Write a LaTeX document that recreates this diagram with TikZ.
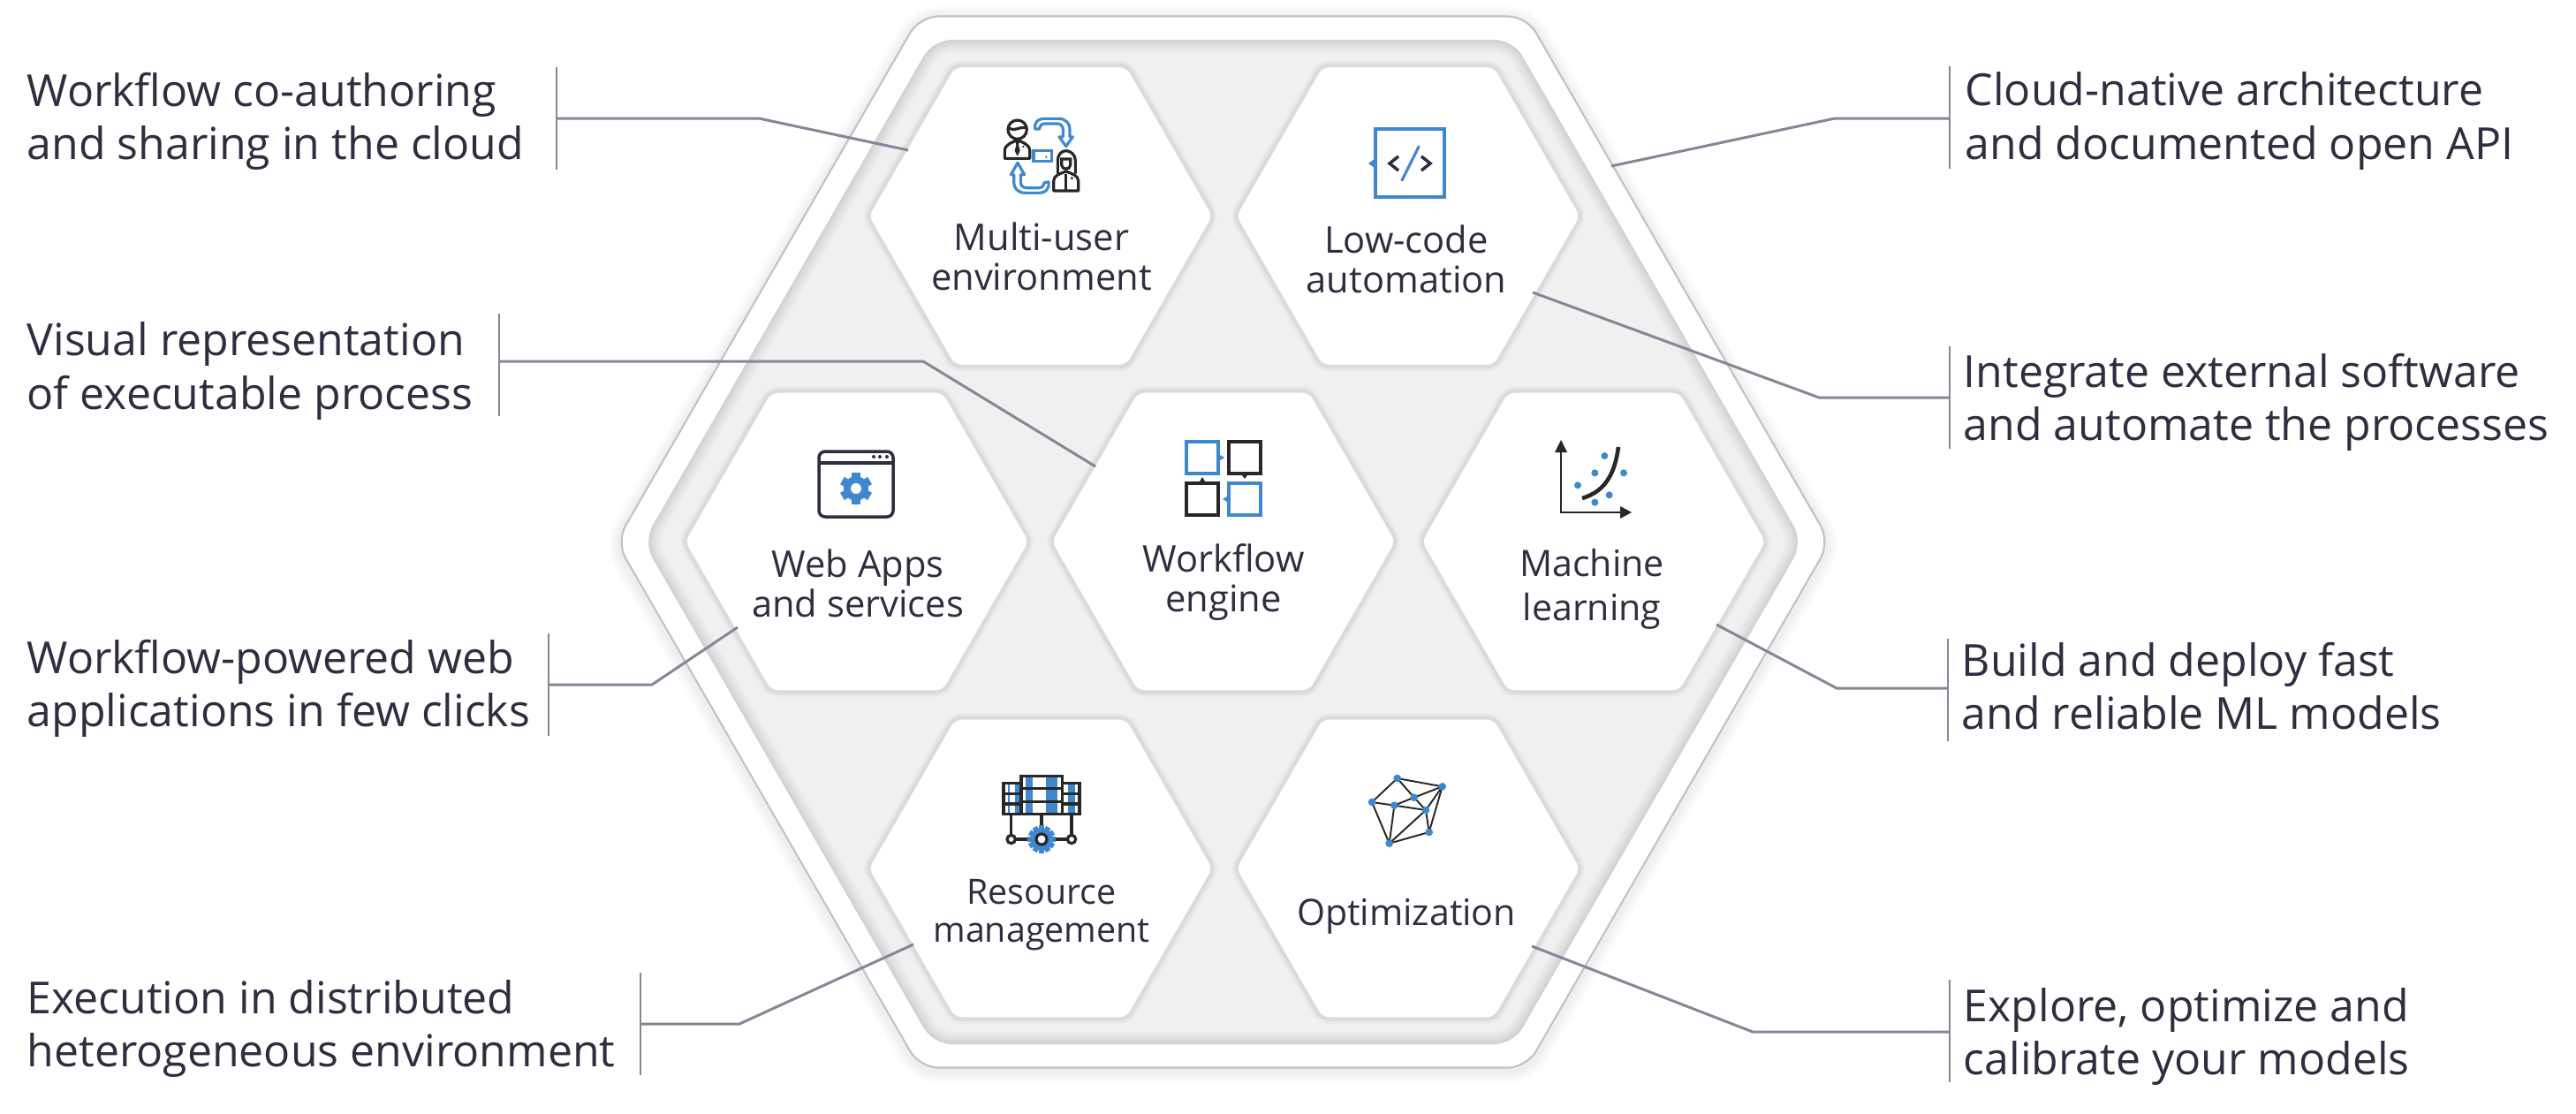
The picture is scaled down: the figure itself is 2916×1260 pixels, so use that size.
\documentclass[tikz,border=0pt]{standalone}
\usepackage{fontspec}
\setmainfont{Open Sans}
\usetikzlibrary{shapes.geometric}
\definecolor{inktext}{HTML}{2D2F40}
\definecolor{leaderline}{HTML}{868695}
\definecolor{iconblue}{HTML}{3F88D0}
\definecolor{icondark}{HTML}{272727}
\definecolor{bandgrey}{HTML}{F0F0F0}
\def\outerhex{(2071.5,613.5) -- (1728,18.5) -- (1041,18.5) -- (697.5,613.5) -- (1041,1208.5) -- (1728,1208.5) -- cycle}
\def\bandhex{(2041,613.5) -- (1712.75,45) -- (1056.25,45) -- (728,613.5) -- (1056.25,1182) -- (1712.75,1182) -- cycle}
\tikzset{
  hexcell/.style={regular polygon, regular polygon sides=6,
    minimum size=3.9cm, inner sep=0pt, rounded corners=2.2pt, fill=white,
    preaction={draw=black, opacity=.02, line width=4pt},
    preaction={draw=black, opacity=.03, line width=2.8pt},
    preaction={draw=black, opacity=.04, line width=1.6pt},
    draw=black!14, line width=.4pt},
  sidetext/.style={anchor=west, inner sep=0pt, align=left, text=inktext,
    font=\fontsize{14.22}{17.07}\selectfont},
  celltext/.style={inner sep=0pt, align=center, text=inktext,
    font=\fontsize{11.85}{12.8}\selectfont},
  leaderbar/.style={fill=leaderline, inner sep=0pt, minimum width=.025cm, minimum height=1.15cm},
  leader/.style={draw=leaderline, line width=.85pt},
  darkline/.style={draw=icondark, line width=.9pt},
  blueline/.style={draw=iconblue, line width=.9pt},
}
\begin{document}
\begin{tikzpicture}[x=.01cm,y=-.01cm]
  \useasboundingbox (0,0) rectangle (2916,1260);

  % outer ring
  \begin{scope}[yshift=-.03cm]
    \foreach \w in {28,22,16,10}
      \draw[black, opacity=.016, line width=\w*.01cm, rounded corners=6pt] \outerhex;
  \end{scope}
  \draw[fill=white, draw=black!24, line width=.6pt, rounded corners=6pt] \outerhex;

  % grey band
  \fill[bandgrey, rounded corners=6pt] \bandhex;
  \begin{scope}
    \clip[rounded corners=6pt] \bandhex;
    \foreach \w in {28,22,17,12,8,4}
      \draw[black, opacity=.02, line width=\w*.01cm, rounded corners=6pt] \bandhex;
  \end{scope}

  % cells
  \node[hexcell] (cellUser) at (1178,244.5) {};
  \node[hexcell] (cellCode) at (1594,244.5) {};
  \node[hexcell] (cellWeb) at (970,613) {};
  \node[hexcell] (cellEngine) at (1385,613) {};
  \node[hexcell] (cellLearn) at (1804,613) {};
  \node[hexcell] (cellResource) at (1178,983) {};
  \node[hexcell] (cellOptim) at (1594,983) {};

  \node[celltext] (textUser) at (1179,290) {Multi-user\\environment};
  \node[celltext] (textCode) at (1592,293) {Low-code\\automation};
  \node[celltext] (textWeb) at (971,660) {Web Apps\\and services};
  \node[celltext] (textEngine) at (1385,659) {Workflow\\engine};
  \node[celltext, font=\fontsize{11.7}{14.2}\selectfont] (textLearn) at (1802,667) {Machine\\learning};
  \node[celltext, font=\fontsize{11.2}{12.2}\selectfont] (textResource) at (1179,1036) {Resource\\management};
  \node[celltext, font=\fontsize{11.7}{12.8}\selectfont] (textOptim) at (1592,1037) {Optimization};

  % multi-user icon
  \begin{scope}[shift={(1000,0)},scale=1/3]
    \draw[darkline] (455,440) circle[radius=32];
    \draw[darkline] (428,436) .. controls (445,447) and (460,430) .. (483,434);
    \draw[darkline, line join=round] (412,538) -- (412,512) .. controls (412,490) and (440,482) .. (455,476) .. controls (470,482) and (497,490) .. (497,512) -- (497,538) -- cycle;
    \fill[icondark] (448,480) -- (462,480) -- (459,492) -- (464,512) -- (455,530) -- (446,512) -- (451,492) -- cycle;
    \fill[icondark] (475,498) circle[radius=4];
    \draw[darkline] (592,590) -- (592,545) .. controls (592,525) and (605,512) .. (620,512) .. controls (635,512) and (652,525) .. (652,545) -- (652,590);
    \draw[darkline] (605,540) -- (635,540) -- (635,560) .. controls (635,578) and (605,578) .. (605,560) -- cycle;
    \draw[darkline, line join=round] (578,648) -- (578,615) .. controls (578,595) and (600,590) .. (620,582) .. controls (640,590) and (662,595) .. (662,615) -- (662,648) -- cycle;
    \draw[darkline] (620,590) -- (620,648);
    \fill[icondark] (640,605) circle[radius=5];
    \draw[blueline] (510,512) rectangle (572,548);
    \fill[iconblue] (553,533) circle[radius=4];
    \draw[blueline, line join=round] (515,438) .. controls (512,415) and (525,403) .. (545,403) -- (595,403) .. controls (620,403) and (633,420) .. (633,438) -- (633,465) -- (643,465) -- (620,497) -- (597,465) -- (610,465) -- (610,440) .. controls (610,428) and (602,420) .. (590,420) -- (548,420) .. controls (538,420) and (530,428) .. (530,438) -- cycle;
    \draw[blueline, line join=round] (561,618) .. controls (564,641) and (551,655) .. (531,655) -- (481,655) .. controls (456,655) and (443,638) .. (443,620) -- (443,593) -- (433,593) -- (456,553) -- (479,593) -- (466,593) -- (466,618) .. controls (466,630) and (474,638) .. (486,638) -- (528,638) .. controls (538,638) and (546,630) .. (546,620) -- cycle;
  \end{scope}

  % low-code icon
  \draw[iconblue, line width=1.4pt] (1557,146) rectangle (1635,223);
  \fill[iconblue] (1549,185) -- (1555,180.5) -- (1555,189.5) -- cycle;
  \draw[draw=inktext, line width=1pt] (1583,177) -- (1573,185) -- (1583,193);
  \draw[draw=inktext, line width=1pt] (1609,177) -- (1619,185) -- (1609,193);
  \draw[iconblue, line width=.9pt, line cap=round] (1606,166) -- (1587,204);

  % web icon
  \draw[draw=inktext, line width=1pt, rounded corners=2pt] (927,511) rectangle (1011,585);
  \draw[draw=inktext, line width=1pt] (927,524) -- (1011,524);
  \foreach \x in {989,996,1004}
    \fill[inktext] (\x,517) circle[radius=2];
  \fill[iconblue] (969,553) circle[radius=14];
  \foreach \a in {30,90,...,330}
    \draw[iconblue, line width=2.7pt] (969,553) -- ++(\a:18);
  \fill[white] (969,553) circle[radius=6];

  % engine icon
  \draw[iconblue, line width=1.4pt] (1343,500) rectangle (1379,536);
  \draw[icondark, line width=1.4pt] (1391,500) rectangle (1427,536);
  \draw[icondark, line width=1.4pt] (1343,547) rectangle (1379,583);
  \draw[iconblue, line width=1.4pt] (1391,547) rectangle (1427,583);
  \fill[iconblue] (1381,515) -- (1386,518) -- (1381,521) -- cycle;
  \fill[icondark] (1406,538) -- (1409,542) -- (1412,538) -- cycle;
  \fill[iconblue] (1389,562) -- (1384,565) -- (1389,568) -- cycle;
  \fill[icondark] (1358,545) -- (1361,540) -- (1364,545) -- cycle;

  % learning icon
  \draw[icondark, line width=.6pt] (1767,512) -- (1767,580) -- (1835,580);
  \fill[icondark] (1767,498) -- (1774,512) -- (1760,512) -- cycle;
  \fill[icondark] (1847,580) -- (1834,573) -- (1834,587) -- cycle;
  \draw[icondark, line width=1.3pt] (1791,564) .. controls (1818,556) and (1828,535) .. (1832,506);
  \foreach \x/\y in {259/108,226/166,324/166,168/208,275/241,226/266}
    \fill[iconblue] (1730+\x/3,480+\y/3) circle[radius=4];

  % resource icon
  \begin{scope}[shift={(1110,860)},scale=1/3]
    \fill[iconblue] (152,58) rectangle (177,183);
    \fill[iconblue] (222,58) rectangle (262,183);
    \fill[iconblue] (92,82) rectangle (100,183);
    \fill[iconblue] (118,82) rectangle (132,183);
    \fill[iconblue] (297,82) rectangle (322,183);
    \draw[darkline] (138,55) rectangle (277,185);
    \draw[darkline] (138,80) -- (78,80) -- (78,185) -- (336,185) -- (336,80) -- (277,80);
    \draw[darkline] (138,98) -- (277,98) (138,143) -- (277,143);
    \draw[darkline] (78,115) -- (138,115) (78,150) -- (138,150);
    \draw[darkline] (277,115) -- (336,115) (277,150) -- (336,150);
    \draw[darkline] (104,185) -- (104,257) (309,185) -- (309,257) (207,185) -- (207,230);
    \draw[darkline] (117,270) -- (296,270);
    \draw[darkline, fill=white] (104,270) circle[radius=14];
    \draw[darkline, fill=white] (309,270) circle[radius=14];
    \fill[iconblue] (207,270) circle[radius=38];
    \foreach \a in {0,30,...,330}
      \draw[iconblue, line width=1.7pt] (207,270) -- ++(\a:47);
    \draw[darkline, fill=white] (207,270) circle[radius=18];
  \end{scope}

  % optimization icon
  \begin{scope}[shift={(1530,860)},scale=1/3]
    \foreach \n/\x/\y in {a/155/63,b/308/91,c/212/128,d/69/144,e/145/155,f/252/171,g/263/246,h/128/284}
      \coordinate (opt\n) at (\x,\y);
    \foreach \s/\t in {a/b,a/c,a/d,b/c,b/f,b/g,c/e,c/f,d/e,d/h,e/f,e/h,f/h,f/g,g/h}
      \draw[icondark, line width=.55pt] (opt\s) -- (opt\t);
    \foreach \n in {a,b,c,d,e,f,g,h}
      \fill[iconblue] (opt\n) circle[radius=13];
  \end{scope}

  % left column
  \node[sidetext] (textCoauthor) at (30,137) {Workflow co-authoring\\and sharing in the cloud};
  \node[leaderbar] (barCoauthor) at (630,134) {};
  \coordinate (kneeCoauthor) at (859,134);
  \coordinate (tipCoauthor) at (1028,170);
  \draw[leader] (barCoauthor.center) -- (kneeCoauthor) -- (tipCoauthor);

  \node[sidetext] (textVisual) at (30,420) {Visual representation\\of executable process};
  \node[leaderbar] (barVisual) at (565,413) {};
  \coordinate (kneeVisual) at (1045,409);
  \coordinate (tipVisual) at (1240,528);
  \draw[leader] (barVisual.center |- kneeVisual) -- (kneeVisual) -- (tipVisual);

  \node[sidetext] (textPowered) at (30,779) {Workflow-powered web\\applications in few clicks};
  \node[leaderbar] (barPowered) at (621,775) {};
  \coordinate (kneePowered) at (738,775);
  \coordinate (tipPowered) at (835,710);
  \draw[leader] (barPowered.center) -- (kneePowered) -- (tipPowered);

  \node[sidetext] (textHetero) at (30,1164) {Execution in distributed\\heterogeneous environment};
  \node[leaderbar] (barHetero) at (725,1159) {};
  \coordinate (kneeHetero) at (837,1159);
  \coordinate (tipHetero) at (1034,1069);
  \draw[leader] (barHetero.center) -- (kneeHetero) -- (tipHetero);

  % right column
  \node[sidetext] (textNative) at (2224,137) {Cloud-native architecture\\and documented open API};
  \node[leaderbar] (barNative) at (2207,133) {};
  \coordinate (kneeNative) at (2077,134);
  \coordinate (tipNative) at (1824,188);
  \draw[leader] (barNative.center |- kneeNative) -- (kneeNative) -- (tipNative);

  \node[sidetext] (textExternal) at (2222,455) {Integrate external software\\and automate the processes};
  \node[leaderbar] (barExternal) at (2207,450) {};
  \coordinate (kneeExternal) at (2059,450);
  \coordinate (tipExternal) at (1735,331);
  \draw[leader] (barExternal.center) -- (kneeExternal) -- (tipExternal);

  \node[sidetext] (textDeploy) at (2220,777) {Build and deploy fast\\and reliable ML models};
  \node[leaderbar] (barDeploy) at (2205,781) {};
  \coordinate (kneeDeploy) at (2079,779);
  \coordinate (tipDeploy) at (1943,707);
  \draw[leader] (barDeploy.center |- kneeDeploy) -- (kneeDeploy) -- (tipDeploy);

  \node[sidetext] (textCalibrate) at (2222,1173) {Explore, optimize and\\calibrate your models};
  \node[leaderbar] (barCalibrate) at (2207,1167) {};
  \coordinate (kneeCalibrate) at (1984,1168);
  \coordinate (tipCalibrate) at (1734,1071);
  \draw[leader] (barCalibrate.center |- kneeCalibrate) -- (kneeCalibrate) -- (tipCalibrate);
\end{tikzpicture}
\end{document}
